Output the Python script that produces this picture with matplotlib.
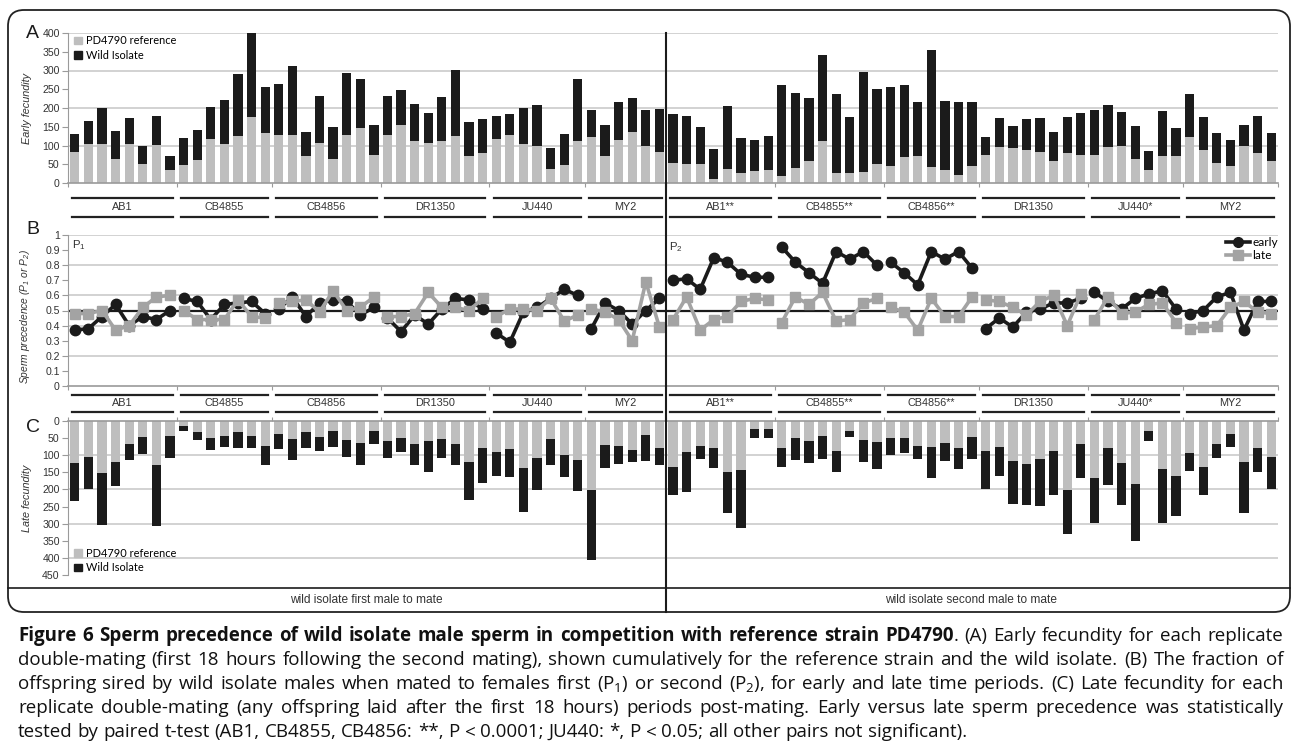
import matplotlib
matplotlib.use("Agg")
import matplotlib.pyplot as plt
from matplotlib.patches import Patch, FancyBboxPatch
from matplotlib.lines import Line2D
import numpy as np

plt.rcParams["font.family"] = ["Liberation Sans", "DejaVu Sans"]
plt.rcParams["mathtext.default"] = "regular"

# ---- data ----
groups_left = ["AB1", "CB4855", "CB4856", "DR1350", "JU440", "MY2"]
sizes_left = [8, 7, 8, 8, 7, 6]
groups_right = ["AB1**", "CB4855**", "CB4856**", "DR1350", "JU440*", "MY2"]
sizes_right = [8, 8, 7, 8, 7, 7]

# A: early fecundity, reference part and cumulative total
early_ref = [83, 103, 103, 64, 105, 52, 101, 34,
             49, 61, 118, 103, 125, 176, 134,
             127, 127, 73, 107, 64, 128, 147, 76,
             129, 156, 113, 108, 113, 125, 71, 81,
             118, 129, 105, 99, 38, 47, 111,
             123, 71, 114, 137, 99, 83,
             54, 52, 52, 12, 38, 28, 31, 34,
             19, 41, 59, 113, 26, 26, 30, 52,
             46, 69, 71, 42, 34, 22, 45,
             76, 96, 93, 88, 83, 59, 79, 76,
             76, 96, 99, 64, 34, 73, 73,
             123, 88, 54, 45, 99, 80, 59]
early_total = [132, 166, 199, 138, 173, 99, 180, 71,
               120, 141, 204, 222, 290, 400, 255,
               265, 312, 137, 232, 150, 293, 278, 154,
               231, 247, 210, 186, 229, 301, 163, 170,
               180, 184, 199, 207, 93, 132, 278,
               196, 154, 215, 227, 196, 198,
               183, 180, 149, 90, 205, 121, 114, 125,
               261, 239, 227, 341, 237, 176, 297, 251,
               255, 262, 217, 354, 220, 217, 217,
               122, 174, 153, 171, 174, 137, 176, 186,
               195, 209, 189, 153, 85, 192, 148,
               238, 176, 134, 114, 156, 180, 134]

# B: sperm precedence
p_early = [0.37, 0.38, 0.46, 0.54, 0.40, 0.46, 0.44, 0.50,
           0.58, 0.56, 0.44, 0.54, 0.55, 0.56, 0.48,
           0.51, 0.59, 0.46, 0.55, 0.57, 0.56, 0.47, 0.52,
           0.45, 0.36, 0.47, 0.41, 0.51, 0.58, 0.57, 0.51,
           0.35, 0.29, 0.49, 0.52, 0.58, 0.64, 0.60,
           0.38, 0.55, 0.50, 0.41, 0.50, 0.58,
           0.70, 0.71, 0.64, 0.85, 0.82, 0.74, 0.72, 0.72,
           0.92, 0.82, 0.75, 0.68, 0.89, 0.84, 0.89, 0.80,
           0.82, 0.75, 0.67, 0.89, 0.84, 0.89, 0.78,
           0.38, 0.45, 0.39, 0.49, 0.51, 0.55, 0.55, 0.58,
           0.62, 0.56, 0.51, 0.58, 0.61, 0.63, 0.51,
           0.48, 0.50, 0.59, 0.62, 0.37, 0.56, 0.56]
p_late = [0.48, 0.48, 0.50, 0.37, 0.40, 0.52, 0.59, 0.60,
          0.50, 0.44, 0.44, 0.44, 0.57, 0.46, 0.45,
          0.55, 0.56, 0.57, 0.49, 0.63, 0.50, 0.52, 0.59,
          0.46, 0.46, 0.48, 0.62, 0.52, 0.52, 0.50, 0.58,
          0.46, 0.51, 0.51, 0.50, 0.58, 0.43, 0.47,
          0.51, 0.49, 0.44, 0.30, 0.69, 0.39,
          0.44, 0.59, 0.37, 0.44, 0.46, 0.56, 0.58, 0.57,
          0.42, 0.59, 0.54, 0.62, 0.43, 0.44, 0.55, 0.58,
          0.52, 0.49, 0.37, 0.58, 0.46, 0.46, 0.59,
          0.57, 0.56, 0.52, 0.47, 0.56, 0.60, 0.40, 0.61,
          0.44, 0.59, 0.48, 0.49, 0.54, 0.55, 0.42,
          0.38, 0.39, 0.40, 0.52, 0.56, 0.49, 0.48]

# C: late fecundity, reference part and cumulative total
late_ref = [123, 104, 153, 120, 68, 46, 128, 43,
            15, 33, 50, 44, 33, 44, 73,
            38, 53, 33, 48, 28, 55, 65, 28,
            58, 50, 68, 58, 53, 68, 120, 78,
            91, 83, 136, 108, 53, 98, 113,
            203, 70, 73, 86, 40, 80,
            133, 91, 73, 78, 148, 143, 23, 23,
            80, 50, 58, 44, 88, 28, 56, 61,
            50, 50, 73, 75, 65, 78, 48,
            88, 75, 118, 126, 111, 88, 203, 68,
            168, 80, 123, 183, 28, 140, 160,
            93, 135, 66, 38, 120, 78, 105]
late_total = [235, 200, 305, 190, 113, 96, 308, 108,
              28, 55, 85, 75, 80, 80, 130,
              83, 113, 78, 88, 75, 106, 130, 68,
              108, 91, 128, 148, 108, 130, 231, 181,
              161, 165, 266, 202, 128, 165, 205,
              406, 136, 126, 121, 116, 128,
              216, 208, 110, 136, 270, 312, 50, 50,
              135, 113, 123, 110, 148, 46, 120, 140,
              98, 93, 110, 168, 116, 140, 110,
              200, 160, 243, 245, 248, 216, 330, 167,
              298, 188, 245, 352, 58, 297, 278,
              145, 215, 108, 76, 268, 148, 198]

caption_lines = [
    "Figure 6 Sperm precedence of wild isolate male sperm in competition with reference strain PD4790|. (A) Early fecundity for each replicate",
    "double-mating (first 18 hours following the second mating), shown cumulatively for the reference strain and the wild isolate. (B) The fraction of",
    "offspring sired by wild isolate males when mated to females first (P$_1$) or second (P$_2$), for early and late time periods. (C) Late fecundity for each",
    "replicate double-mating (any offspring laid after the first 18 hours) periods post-mating. Early versus late sperm precedence was statistically",
    "tested by paired t-test (AB1, CB4855, CB4856: **, P < 0.0001; JU440: *, P < 0.05; all other pairs not significant).",
]

GREY = "#bebebe"
BLACK = "#1b1b1b"
LATE = "#a3a3a3"
GRID = "#c6c6c6"
AXC = "#9a9a9a"
TXT = "#333333"

W, H = 1293, 750
fig = plt.figure(figsize=(W / 100, H / 100), dpi=100)


def add_ax(x0, y0, x1, y1):
    return fig.add_axes([x0 / W, 1 - y1 / H, (x1 - x0) / W, (y1 - y0) / H])


def fig_line(x0, y0, x1, y1, **kw):
    fig.add_artist(Line2D([x0 / W, x1 / W], [1 - y0 / H, 1 - y1 / H],
                          transform=fig.transFigure, **kw))


groups = groups_left + groups_right
sizes = sizes_left + sizes_right
bounds = np.concatenate([[0], np.cumsum(sizes)])
n = len(early_ref)
x = np.arange(n)
early_ref = np.array(early_ref)
early_total = np.array(early_total)
late_ref = np.array(late_ref)
late_total = np.array(late_total)
p_early = np.array(p_early)
p_late = np.array(p_late)

X0, X1 = 68, 1278
TICK_FS = 7.6


def style(ax, lo, hi, step, grid, top=False):
    ax.set_xlim(-0.5, n - 0.5)
    if top:
        ax.set_ylim(hi, lo)
    else:
        ax.set_ylim(lo, hi)
    ax.set_yticks(np.arange(lo, hi + step / 2, step))
    for g in grid:
        ax.axhline(g, color=GRID, lw=1.1, zorder=0)
    for s in ["right", "top", "bottom"]:
        ax.spines[s].set_visible(False)
    ax.spines["left"].set_color(AXC)
    ax.spines["top" if top else "bottom"].set_visible(True)
    ax.spines["top" if top else "bottom"].set_color(AXC)
    ax.spines["top" if top else "bottom"].set_linewidth(1.2)
    ax.set_xticks(bounds - 0.5)
    ax.tick_params(axis="x", length=3, color=AXC, labelbottom=False, labeltop=False,
                   bottom=not top, top=top)
    ax.tick_params(axis="y", length=4, color=AXC, labelsize=TICK_FS, labelcolor=TXT, pad=2)
    ax.set_facecolor("none")


def group_labels(ax, ytop, ylab, ybot):
    tr = ax.get_xaxis_transform()
    for i, name in enumerate(groups):
        s = bounds[i] - 0.5 + 0.3
        e = bounds[i + 1] - 0.5 - 0.3
        ax.plot([s, e], [ytop, ytop], transform=tr, clip_on=False, color="#222222", lw=1.6)
        ax.plot([s, e], [ybot, ybot], transform=tr, clip_on=False, color="#222222", lw=1.6)
        ax.text((s + e) / 2, ylab, name, transform=tr, ha="center", va="center",
                fontsize=7.8, color=TXT)


leg_prop = {"family": "Lato", "size": 7.9}

# ---- panel A ----
axA = add_ax(X0, 33, X1, 183)
style(axA, 0, 400, 50, [100, 200, 300, 400])
axA.bar(x, early_ref, width=0.68, color=GREY, zorder=2)
axA.bar(x, early_total - early_ref, bottom=early_ref, width=0.68, color=BLACK, zorder=2)
group_labels(axA, -15 / 150, -24 / 150, -34 / 150)
axA.set_ylabel("Early fecundity", fontsize=7.8, style="italic", color=TXT)
axA.yaxis.set_label_coords(-(X0 - 32) / (X1 - X0), 0.5)
axA.legend(handles=[Patch(color=GREY, label="PD4790 reference"),
                    Patch(color=BLACK, label="Wild Isolate")],
           loc="upper left", bbox_to_anchor=(0.005, 0.985), frameon=False,
           prop=leg_prop, handlelength=0.7, handleheight=0.7,
           handletextpad=0.4, labelspacing=0.3, borderaxespad=0, borderpad=0)

# ---- panel B ----
axB = add_ax(X0, 235, X1, 386)
style(axB, 0, 1.0, 0.1, [0.2, 0.4, 0.6, 0.8, 1.0])
axB.set_yticklabels(["0"] + ["%g" % v for v in np.arange(0.1, 1.05, 0.1)])
axB.axhline(0.5, color=BLACK, lw=1.6, zorder=1)
for i in range(len(groups)):
    idx = np.arange(bounds[i], bounds[i + 1])
    axB.plot(idx, p_early[idx], color=BLACK, lw=2.6, marker="o", ms=7.5, zorder=3)
    axB.plot(idx, p_late[idx], color=LATE, lw=2.6, marker="s", ms=7, zorder=4)
group_labels(axB, -9 / 151, -17 / 151, -26 / 151)
axB.set_ylabel("Sperm precedence (P$_1$ or P$_2$)", fontsize=7.4, style="italic", color=TXT)
axB.yaxis.set_label_coords(-(X0 - 32) / (X1 - X0), 0.46)
axB.text(-0.2, 0.93, "P$_1$", fontsize=8.2, color=TXT, transform=axB.get_xaxis_transform(),
         va="center")
axB.text(43.7, 0.92, "P$_2$", fontsize=8.2, color=TXT, transform=axB.get_xaxis_transform(),
         va="center")
axB.legend(handles=[Line2D([], [], color=BLACK, lw=2.6, marker="o", ms=7, label="early"),
                    Line2D([], [], color=LATE, lw=2.6, marker="s", ms=6.5, label="late")],
           loc="upper right", bbox_to_anchor=(1.0, 0.985), frameon=False,
           prop={"family": "Lato", "size": 8.6}, handlelength=2.0, handletextpad=0.2,
           labelspacing=0.15, borderaxespad=0, borderpad=0)

# ---- panel C ----
axC = add_ax(X0, 421, X1, 575)
style(axC, 0, 450, 50, [100, 200, 300, 400], top=True)
axC.bar(x, late_ref, width=0.68, color=GREY, zorder=2)
axC.bar(x, late_total - late_ref, bottom=late_ref, width=0.68, color=BLACK, zorder=2)
axC.set_ylabel("Late fecundity", fontsize=7.8, style="italic", color=TXT)
axC.yaxis.set_label_coords(-(X0 - 32) / (X1 - X0), 0.5)
axC.legend(handles=[Patch(color=GREY, label="PD4790 reference"),
                    Patch(color=BLACK, label="Wild Isolate")],
           loc="lower left", bbox_to_anchor=(0.005, 0.01), frameon=False,
           prop=leg_prop, handlelength=0.7, handleheight=0.7,
           handletextpad=0.4, labelspacing=0.3, borderaxespad=0, borderpad=0)

# ---- frame, dividers and panel letters ----
FRAME_BOT = 612
fig.add_artist(FancyBboxPatch((0.08, (H - FRAME_BOT) / 100), 12.82, (FRAME_BOT - 10) / 100,
                              boxstyle="round,pad=0,rounding_size=0.16",
                              transform=fig.dpi_scale_trans, fill=False,
                              edgecolor="#222222", lw=1.3))
fig_line(665.5, 33, 665.5, FRAME_BOT, color=BLACK, lw=1.5)
fig_line(8, 588, 1290, 588, color=BLACK, lw=1.2)
fig.text(366 / W, 1 - 600 / H, "wild isolate first male to mate", ha="center", va="center",
         fontsize=8.6, color=TXT)
fig.text(971 / W, 1 - 600 / H, "wild isolate second male to mate", ha="center", va="center",
         fontsize=8.6, color=TXT)
for lab, yc in [("A", 34), ("B", 229), ("C", 427)]:
    fig.text(26 / W, 1 - yc / H, lab, ha="left", va="center", fontsize=14, color=BLACK)

# ---- caption, justified word by word ----
renderer = fig.canvas.get_renderer()
CAP_FS = 13.5
CAP_FONT = ["Open Sans", "DejaVu Sans"]
CX0, CX1 = 18, 1283
base_y = 641
line_gap = 24


def measure(t):
    return t.get_window_extent(renderer).width


probe1 = fig.text(0, 0, "x x", fontsize=CAP_FS, family=CAP_FONT)
probe2 = fig.text(0, 0, "xx", fontsize=CAP_FS, family=CAP_FONT)
space_w = measure(probe1) - measure(probe2)
probe1.remove()
probe2.remove()

for li, line in enumerate(caption_lines):
    words = line.split(" ")
    bold = li == 0
    tokens = []
    for w in words:
        if "|" in w:
            a, b = w.split("|")
            pieces = [(a, True), (b, False)]
            bold = False
        else:
            pieces = [(w, bold)]
        objs = []
        for txt, bw in pieces:
            t = fig.text(0, 0, txt, fontsize=CAP_FS, family=CAP_FONT,
                         fontweight="bold" if bw else "normal", color="#111111",
                         va="baseline", ha="left")
            objs.append((t, measure(t)))
        tokens.append(objs)
    widths = [sum(wd for _, wd in tok) for tok in tokens]
    if li < len(caption_lines) - 1:
        gap = max((CX1 - CX0 - sum(widths)) / (len(tokens) - 1), space_w * 0.6)
    else:
        gap = space_w
    xc = CX0
    yy = 1 - (base_y + li * line_gap) / H
    for tok, wd in zip(tokens, widths):
        xp = xc
        for t, pw in tok:
            t.set_position((xp / W, yy))
            xp += pw
        xc += wd + gap

fig.savefig("out.png", dpi=100)
